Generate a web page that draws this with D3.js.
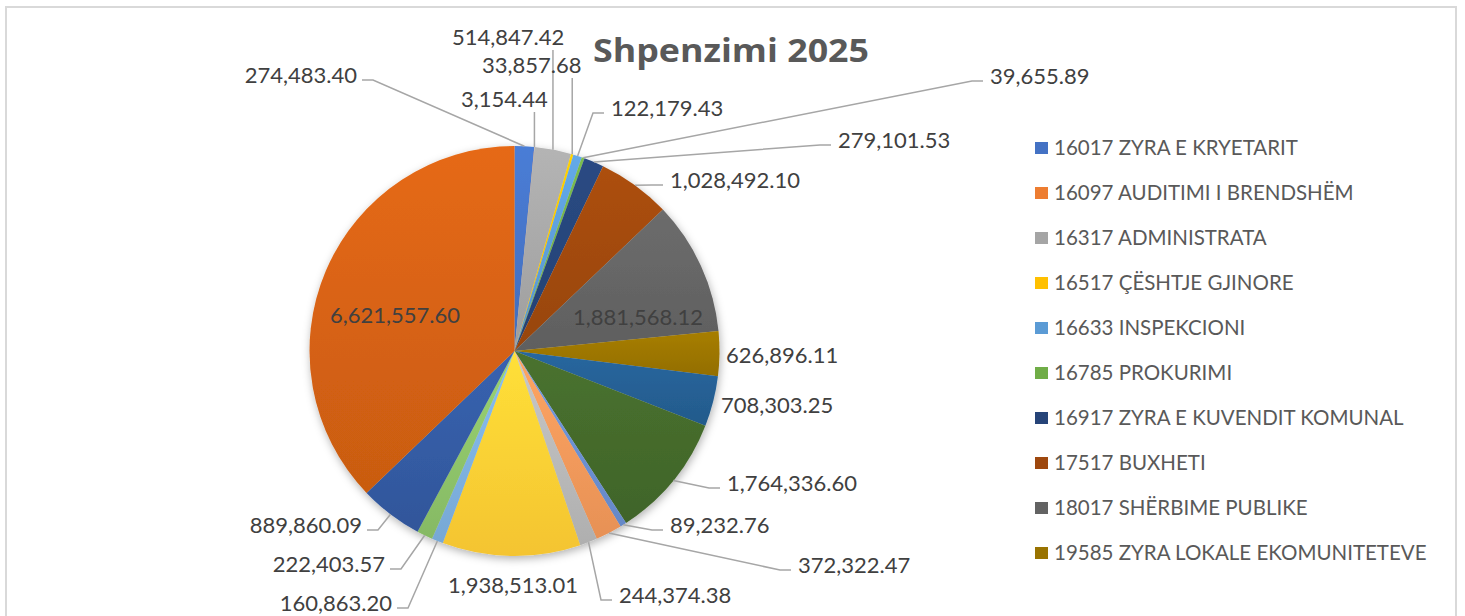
<!DOCTYPE html>
<html><head><meta charset="utf-8">
<script src="https://cdn.jsdelivr.net/npm/d3@7"></script>
<style>html,body{margin:0;padding:0;background:#fff;overflow:hidden}</style>
</head><body>
<svg id="chart" width="1465" height="616"></svg>
<script>
// ---- data ----
const title = "Shpenzimi 2025";
const legendNames = [
  "16017 ZYRA E KRYETARIT",
  "16097 AUDITIMI I BRENDSHËM",
  "16317 ADMINISTRATA",
  "16517 ÇËSHTJE GJINORE",
  "16633 INSPEKCIONI",
  "16785 PROKURIMI",
  "16917 ZYRA E KUVENDIT KOMUNAL",
  "17517 BUXHETI",
  "18017 SHËRBIME PUBLIKE",
  "19585 ZYRA LOKALE EKOMUNITETEVE"
];
const values = [274483.40, 3154.44, 514847.42, 33857.68, 122179.43, 39655.89, 279101.53,
  1028492.10, 1881568.12, 626896.11, 708303.25, 1764336.60, 89232.76, 372322.47,
  244374.38, 1938513.01, 160863.20, 222403.57, 889860.09, 6621557.60];
const colors = ["#4472C4","#ED7D31","#A5A5A5","#FFC000","#5B9BD5","#70AD47",
  "#264478","#9E480E","#636363","#997300","#255E91","#43682B",
  "#698ED0","#F1975A","#B7B7B7","#FFCD33","#7CAFDD","#8CC168",
  "#335AA1","#D26012"];

// ---- label layout (x, baseline, anchor, leader type) ----
const labelLayout = [
  [357, 83, "end", "hr"],
  [461, 107, "start", "v"],
  [452, 45, "start", "v"],
  [482, 73, "start", "v"],
  [611, 116, "start", "hl"],
  [990, 84, "start", "hl"],
  [838, 148, "start", "hl"],
  [670, 188, "start", "hl"],
  [573, 325, "start", "in"],
  [726, 363, "start", "none"],
  [721, 413, "start", "none"],
  [727, 491, "start", "hl"],
  [670, 533, "start", "hl"],
  [798, 573, "start", "hl"],
  [619, 603, "start", "hl"],
  [448, 593, "start", "none"],
  [392, 611, "end", "hr"],
  [385, 572, "end", "hr"],
  [362, 533, "end", "hr"],
  [330, 323, "start", "in"]
];

const svg = d3.select("#chart");
const fmt = d3.format(",.2f");
const cx = 514.5, cy = 351, R = 205;

// border
svg.append("rect").attr("x", 6).attr("y", 7).attr("width", 1450).attr("height", 640)
  .attr("fill", "#fff").attr("stroke", "#d9d9d9").attr("stroke-width", 2);

const defs = svg.append("defs");
const f = defs.append("filter").attr("id", "shadow").attr("x", "-10%").attr("y", "-10%")
  .attr("width", "120%").attr("height", "125%");
f.append("feDropShadow").attr("dx", 1).attr("dy", 3).attr("stdDeviation", 4)
  .attr("flood-color", "#000").attr("flood-opacity", 0.3);

colors.forEach((c, i) => {
  const g = defs.append("linearGradient").attr("id", "g" + i)
    .attr("x1", 0).attr("y1", 0).attr("x2", 0).attr("y2", 1);
  g.append("stop").attr("offset", "0%").attr("stop-color", d3.color(c).brighter(0.25).formatHex());
  g.append("stop").attr("offset", "100%").attr("stop-color", d3.color(c).darker(0.12).formatHex());
});

// title
svg.append("text").attr("x", 731).attr("y", 62).attr("text-anchor", "middle")
  .attr("font-family", "'Open Sans', sans-serif").attr("font-weight", 700)
  .attr("font-size", 32).attr("fill", "#595959")
  .attr("textLength", 276).attr("lengthAdjust", "spacingAndGlyphs")
  .text(title);

// pie
const pie = d3.pie().sort(null).value(d => d);
const arcs = pie(values);
const arc = d3.arc().innerRadius(0).outerRadius(R);
const gPie = svg.append("g").attr("transform", `translate(${cx},${cy})`).attr("filter", "url(#shadow)");
gPie.selectAll("path").data(arcs).join("path")
  .attr("d", arc)
  .attr("fill", (d, i) => `url(#g${i})`);

// leader lines
const lineColor = "#A6A6A6";
const gLines = svg.append("g");
const gLabels = svg.append("g").attr("font-family", "Lato, sans-serif").attr("font-size", 22).attr("fill", "#404040");

arcs.forEach((d, i) => {
  const [lx, ly, anchor, type] = labelLayout[i];
  gLabels.append("text").attr("x", lx).attr("y", ly).attr("text-anchor", anchor).text(fmt(values[i]));
  const a = (d.startAngle + d.endAngle) / 2;
  const px = cx + R * Math.sin(a), py = cy - R * Math.cos(a);
  let pts = null;
  if (type === "hl") {
    const sx = lx - 7, sy = ly - 3;
    pts = [[sx, sy], [sx - 11, sy], [px, py]];
  } else if (type === "hr") {
    const sx = lx + 5, sy = ly - 3;
    pts = [[sx, sy], [sx + 11, sy], [px, py]];
  } else if (type === "v") {
    pts = [[px, ly + 5], [px, py]];
  }
  if (pts) {
    gLines.append("path").attr("d", d3.line()(pts))
      .attr("fill", "none").attr("stroke", lineColor).attr("stroke-width", 1.5);
  }
});

// legend
const gLeg = svg.append("g");
legendNames.forEach((n, i) => {
  gLeg.append("rect").attr("x", 1035).attr("y", 142 + 45 * i).attr("width", 13).attr("height", 12)
    .attr("fill", colors[i]);
  gLeg.append("text").attr("x", 1054).attr("y", 155 + 45 * i)
    .attr("font-family", "Lato, sans-serif").attr("font-size", 20.5).attr("fill", "#595959")
    .text(n);
});
</script>
</body></html>
